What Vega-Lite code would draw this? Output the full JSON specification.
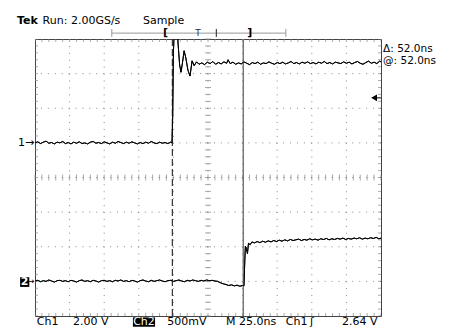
{
  "$schema": "https://vega.github.io/schema/vega-lite/v6.json",
  "width": 346,
  "height": 277,
  "autosize": {"type": "none"},
  "padding": {"left": 35, "top": 39, "right": 69, "bottom": 15},
  "background": "white",
  "config": {"axis": {"disable": true}, "view": {"stroke": "#444", "strokeWidth": 1}},
  "data": {"values": [{}]},
  "datasets": {
    "gridx": [{"v":1},{"v":2},{"v":3},{"v":4},{"v":5},{"v":6},{"v":7},{"v":8},{"v":9}],
    "gridy": [{"v":-3},{"v":-2},{"v":-1},{"v":0},{"v":1},{"v":2},{"v":3}],
    "tx": [{"v":0},{"v":0.2},{"v":0.4},{"v":0.6},{"v":0.8},{"v":1},{"v":1.2},{"v":1.4},{"v":1.6},{"v":1.8},{"v":2},{"v":2.2},{"v":2.4},{"v":2.6},{"v":2.8},{"v":3},{"v":3.2},{"v":3.4},{"v":3.6},{"v":3.8},{"v":4},{"v":4.2},{"v":4.4},{"v":4.6},{"v":4.8},{"v":5},{"v":5.2},{"v":5.4},{"v":5.6},{"v":5.8},{"v":6},{"v":6.2},{"v":6.4},{"v":6.6},{"v":6.8},{"v":7},{"v":7.2},{"v":7.4},{"v":7.6},{"v":7.8},{"v":8},{"v":8.2},{"v":8.4},{"v":8.6},{"v":8.8},{"v":9},{"v":9.2},{"v":9.4},{"v":9.6},{"v":9.8},{"v":10}],
    "ty": [{"v":-4},{"v":-3.8},{"v":-3.6},{"v":-3.4},{"v":-3.2},{"v":-3},{"v":-2.8},{"v":-2.6},{"v":-2.4},{"v":-2.2},{"v":-2},{"v":-1.8},{"v":-1.6},{"v":-1.4},{"v":-1.2},{"v":-1},{"v":-0.8},{"v":-0.6},{"v":-0.4},{"v":-0.2},{"v":0},{"v":0.2},{"v":0.4},{"v":0.6},{"v":0.8},{"v":1},{"v":1.2},{"v":1.4},{"v":1.6},{"v":1.8},{"v":2},{"v":2.2},{"v":2.4},{"v":2.6},{"v":2.8},{"v":3},{"v":3.2},{"v":3.4},{"v":3.6},{"v":3.8},{"v":4}],
    "traces": [
      {"ch":"1","t":0.00,"v":1.00},{"ch":"1","t":0.08,"v":1.03},{"ch":"1","t":0.16,"v":0.98},{"ch":"1","t":0.24,"v":1.02},{"ch":"1","t":0.32,"v":1.05},{"ch":"1","t":0.40,"v":0.99},{"ch":"1","t":0.48,"v":1.01},{"ch":"1","t":0.56,"v":0.97},{"ch":"1","t":0.64,"v":1.02},{"ch":"1","t":0.72,"v":1.00},{"ch":"1","t":0.80,"v":1.04},{"ch":"1","t":0.88,"v":0.98},{"ch":"1","t":0.96,"v":1.01},{"ch":"1","t":1.04,"v":0.97},{"ch":"1","t":1.12,"v":1.02},{"ch":"1","t":1.20,"v":0.99},{"ch":"1","t":1.28,"v":1.03},{"ch":"1","t":1.36,"v":0.98},{"ch":"1","t":1.44,"v":1.00},{"ch":"1","t":1.52,"v":0.97},{"ch":"1","t":1.60,"v":1.02},{"ch":"1","t":1.68,"v":1.04},{"ch":"1","t":1.76,"v":0.99},{"ch":"1","t":1.84,"v":1.01},{"ch":"1","t":1.92,"v":0.98},{"ch":"1","t":2.00,"v":1.03},{"ch":"1","t":2.08,"v":1.00},{"ch":"1","t":2.16,"v":0.97},{"ch":"1","t":2.24,"v":1.02},{"ch":"1","t":2.32,"v":0.99},{"ch":"1","t":2.40,"v":1.04},{"ch":"1","t":2.48,"v":1.01},{"ch":"1","t":2.56,"v":0.98},{"ch":"1","t":2.64,"v":1.02},{"ch":"1","t":2.72,"v":0.99},{"ch":"1","t":2.80,"v":1.03},{"ch":"1","t":2.88,"v":1.00},{"ch":"1","t":2.96,"v":0.97},{"ch":"1","t":3.04,"v":1.01},{"ch":"1","t":3.12,"v":0.98},{"ch":"1","t":3.20,"v":1.02},{"ch":"1","t":3.28,"v":0.99},{"ch":"1","t":3.36,"v":1.04},{"ch":"1","t":3.44,"v":1.00},{"ch":"1","t":3.52,"v":0.98},{"ch":"1","t":3.60,"v":1.02},{"ch":"1","t":3.68,"v":0.99},{"ch":"1","t":3.76,"v":1.01},{"ch":"1","t":3.84,"v":0.98},{"ch":"1","t":3.92,"v":1.02},{"ch":"1","t":3.96,"v":1.00},{"ch":"1","t":3.98,"v":1.8},{"ch":"1","t":4.00,"v":3.6},{"ch":"1","t":4.03,"v":4.4},{"ch":"1","t":4.10,"v":4.4},{"ch":"1","t":4.14,"v":3.8},{"ch":"1","t":4.18,"v":3.25},{"ch":"1","t":4.22,"v":3.04},{"ch":"1","t":4.26,"v":3.3},{"ch":"1","t":4.31,"v":3.66},{"ch":"1","t":4.36,"v":3.45},{"ch":"1","t":4.42,"v":3.1},{"ch":"1","t":4.48,"v":2.93},{"ch":"1","t":4.54,"v":3.37},{"ch":"1","t":4.60,"v":3.23},{"ch":"1","t":4.67,"v":3.34},{"ch":"1","t":4.74,"v":3.27},{"ch":"1","t":4.82,"v":3.31},{"ch":"1","t":4.90,"v":3.26},{"ch":"1","t":4.98,"v":3.33},{"ch":"1","t":5.06,"v":3.29},{"ch":"1","t":5.14,"v":3.35},{"ch":"1","t":5.22,"v":3.27},{"ch":"1","t":5.30,"v":3.32},{"ch":"1","t":5.38,"v":3.28},{"ch":"1","t":5.46,"v":3.34},{"ch":"1","t":5.54,"v":3.30},{"ch":"1","t":5.58,"v":3.40},{"ch":"1","t":5.64,"v":3.29},{"ch":"1","t":5.72,"v":3.33},{"ch":"1","t":5.80,"v":3.27},{"ch":"1","t":5.88,"v":3.31},{"ch":"1","t":5.96,"v":3.28},{"ch":"1","t":6.04,"v":3.34},{"ch":"1","t":6.12,"v":3.30},{"ch":"1","t":6.20,"v":3.26},{"ch":"1","t":6.28,"v":3.32},{"ch":"1","t":6.36,"v":3.29},{"ch":"1","t":6.44,"v":3.33},{"ch":"1","t":6.52,"v":3.27},{"ch":"1","t":6.60,"v":3.31},{"ch":"1","t":6.68,"v":3.29},{"ch":"1","t":6.76,"v":3.34},{"ch":"1","t":6.84,"v":3.30},{"ch":"1","t":6.92,"v":3.27},{"ch":"1","t":7.00,"v":3.32},{"ch":"1","t":7.08,"v":3.29},{"ch":"1","t":7.16,"v":3.33},{"ch":"1","t":7.24,"v":3.28},{"ch":"1","t":7.32,"v":3.31},{"ch":"1","t":7.40,"v":3.35},{"ch":"1","t":7.48,"v":3.29},{"ch":"1","t":7.56,"v":3.32},{"ch":"1","t":7.64,"v":3.28},{"ch":"1","t":7.72,"v":3.33},{"ch":"1","t":7.80,"v":3.30},{"ch":"1","t":7.88,"v":3.34},{"ch":"1","t":7.96,"v":3.29},{"ch":"1","t":8.04,"v":3.32},{"ch":"1","t":8.12,"v":3.28},{"ch":"1","t":8.20,"v":3.33},{"ch":"1","t":8.28,"v":3.30},{"ch":"1","t":8.36,"v":3.35},{"ch":"1","t":8.44,"v":3.29},{"ch":"1","t":8.52,"v":3.32},{"ch":"1","t":8.60,"v":3.28},{"ch":"1","t":8.68,"v":3.33},{"ch":"1","t":8.76,"v":3.31},{"ch":"1","t":8.84,"v":3.29},{"ch":"1","t":8.92,"v":3.34},{"ch":"1","t":9.00,"v":3.30},{"ch":"1","t":9.08,"v":3.33},{"ch":"1","t":9.16,"v":3.28},{"ch":"1","t":9.24,"v":3.32},{"ch":"1","t":9.32,"v":3.35},{"ch":"1","t":9.40,"v":3.30},{"ch":"1","t":9.48,"v":3.27},{"ch":"1","t":9.56,"v":3.32},{"ch":"1","t":9.64,"v":3.36},{"ch":"1","t":9.72,"v":3.30},{"ch":"1","t":9.80,"v":3.33},{"ch":"1","t":9.88,"v":3.29},{"ch":"1","t":9.96,"v":3.36},{"ch":"1","t":10.00,"v":3.34},
      {"ch":"2","t":0.00,"v":-2.99},{"ch":"2","t":0.08,"v":-2.97},{"ch":"2","t":0.16,"v":-3.01},{"ch":"2","t":0.24,"v":-2.98},{"ch":"2","t":0.32,"v":-3.00},{"ch":"2","t":0.40,"v":-2.96},{"ch":"2","t":0.48,"v":-2.99},{"ch":"2","t":0.56,"v":-3.02},{"ch":"2","t":0.64,"v":-2.98},{"ch":"2","t":0.72,"v":-2.97},{"ch":"2","t":0.80,"v":-3.00},{"ch":"2","t":0.88,"v":-2.98},{"ch":"2","t":0.96,"v":-3.01},{"ch":"2","t":1.04,"v":-2.97},{"ch":"2","t":1.12,"v":-2.99},{"ch":"2","t":1.20,"v":-3.02},{"ch":"2","t":1.28,"v":-2.98},{"ch":"2","t":1.36,"v":-2.96},{"ch":"2","t":1.44,"v":-3.00},{"ch":"2","t":1.52,"v":-2.98},{"ch":"2","t":1.60,"v":-3.01},{"ch":"2","t":1.68,"v":-2.97},{"ch":"2","t":1.76,"v":-2.99},{"ch":"2","t":1.84,"v":-3.02},{"ch":"2","t":1.92,"v":-2.98},{"ch":"2","t":2.00,"v":-2.97},{"ch":"2","t":2.08,"v":-3.00},{"ch":"2","t":2.16,"v":-2.98},{"ch":"2","t":2.24,"v":-3.01},{"ch":"2","t":2.32,"v":-2.97},{"ch":"2","t":2.40,"v":-2.99},{"ch":"2","t":2.48,"v":-2.96},{"ch":"2","t":2.56,"v":-3.00},{"ch":"2","t":2.64,"v":-2.98},{"ch":"2","t":2.72,"v":-3.01},{"ch":"2","t":2.80,"v":-2.97},{"ch":"2","t":2.88,"v":-2.99},{"ch":"2","t":2.96,"v":-3.02},{"ch":"2","t":3.04,"v":-2.98},{"ch":"2","t":3.12,"v":-2.96},{"ch":"2","t":3.20,"v":-2.99},{"ch":"2","t":3.28,"v":-3.01},{"ch":"2","t":3.36,"v":-2.97},{"ch":"2","t":3.44,"v":-3.00},{"ch":"2","t":3.52,"v":-2.98},{"ch":"2","t":3.60,"v":-2.96},{"ch":"2","t":3.68,"v":-2.99},{"ch":"2","t":3.76,"v":-3.01},{"ch":"2","t":3.84,"v":-2.98},{"ch":"2","t":3.92,"v":-2.97},{"ch":"2","t":4.00,"v":-3.00},{"ch":"2","t":4.08,"v":-2.98},{"ch":"2","t":4.16,"v":-2.96},{"ch":"2","t":4.24,"v":-2.99},{"ch":"2","t":4.32,"v":-3.01},{"ch":"2","t":4.40,"v":-2.97},{"ch":"2","t":4.48,"v":-2.99},{"ch":"2","t":4.56,"v":-2.96},{"ch":"2","t":4.64,"v":-2.98},{"ch":"2","t":4.72,"v":-3.00},{"ch":"2","t":4.80,"v":-2.97},{"ch":"2","t":4.88,"v":-2.99},{"ch":"2","t":4.96,"v":-2.96},{"ch":"2","t":5.04,"v":-2.98},{"ch":"2","t":5.12,"v":-2.97},{"ch":"2","t":5.20,"v":-2.99},{"ch":"2","t":5.28,"v":-3.00},{"ch":"2","t":5.36,"v":-3.04},{"ch":"2","t":5.44,"v":-3.07},{"ch":"2","t":5.52,"v":-3.09},{"ch":"2","t":5.60,"v":-3.12},{"ch":"2","t":5.68,"v":-3.10},{"ch":"2","t":5.76,"v":-3.13},{"ch":"2","t":5.84,"v":-3.11},{"ch":"2","t":5.92,"v":-3.14},{"ch":"2","t":6.00,"v":-3.12},{"ch":"2","t":6.04,"v":-3.13},{"ch":"2","t":6.06,"v":-2.5},{"ch":"2","t":6.08,"v":-1.98},{"ch":"2","t":6.11,"v":-2.05},{"ch":"2","t":6.14,"v":-2.2},{"ch":"2","t":6.17,"v":-1.9},{"ch":"2","t":6.22,"v":-1.94},{"ch":"2","t":6.27,"v":-1.86},{"ch":"2","t":6.34,"v":-1.89},{"ch":"2","t":6.42,"v":-1.85},{"ch":"2","t":6.50,"v":-1.88},{"ch":"2","t":6.58,"v":-1.84},{"ch":"2","t":6.66,"v":-1.87},{"ch":"2","t":6.74,"v":-1.83},{"ch":"2","t":6.82,"v":-1.86},{"ch":"2","t":6.90,"v":-1.82},{"ch":"2","t":6.98,"v":-1.85},{"ch":"2","t":7.06,"v":-1.81},{"ch":"2","t":7.14,"v":-1.84},{"ch":"2","t":7.22,"v":-1.80},{"ch":"2","t":7.30,"v":-1.83},{"ch":"2","t":7.38,"v":-1.79},{"ch":"2","t":7.46,"v":-1.82},{"ch":"2","t":7.54,"v":-1.80},{"ch":"2","t":7.62,"v":-1.78},{"ch":"2","t":7.70,"v":-1.82},{"ch":"2","t":7.78,"v":-1.79},{"ch":"2","t":7.86,"v":-1.81},{"ch":"2","t":7.94,"v":-1.77},{"ch":"2","t":8.02,"v":-1.80},{"ch":"2","t":8.10,"v":-1.78},{"ch":"2","t":8.18,"v":-1.81},{"ch":"2","t":8.26,"v":-1.77},{"ch":"2","t":8.34,"v":-1.79},{"ch":"2","t":8.42,"v":-1.76},{"ch":"2","t":8.50,"v":-1.80},{"ch":"2","t":8.58,"v":-1.77},{"ch":"2","t":8.66,"v":-1.79},{"ch":"2","t":8.74,"v":-1.76},{"ch":"2","t":8.82,"v":-1.78},{"ch":"2","t":8.90,"v":-1.75},{"ch":"2","t":8.98,"v":-1.79},{"ch":"2","t":9.06,"v":-1.76},{"ch":"2","t":9.14,"v":-1.78},{"ch":"2","t":9.22,"v":-1.75},{"ch":"2","t":9.30,"v":-1.77},{"ch":"2","t":9.38,"v":-1.74},{"ch":"2","t":9.46,"v":-1.78},{"ch":"2","t":9.54,"v":-1.75},{"ch":"2","t":9.62,"v":-1.77},{"ch":"2","t":9.70,"v":-1.74},{"ch":"2","t":9.78,"v":-1.76},{"ch":"2","t":9.86,"v":-1.73},{"ch":"2","t":9.94,"v":-1.77},{"ch":"2","t":10.00,"v":-1.75}
    ]
  },
  "layer": [
    {"data": {"name": "traces"}, "mark": {"type": "line", "color": "#000", "strokeWidth": 1, "clip": true},
     "encoding": {"x": {"field": "t", "type": "quantitative", "scale": {"domain": [0, 10], "nice": false, "zero": false}},
                  "y": {"field": "v", "type": "quantitative", "scale": {"domain": [-4, 4], "nice": false, "zero": false}},
                  "detail": {"field": "ch"}}},
    {"data": {"name": "gridx"}, "mark": {"type": "rule", "color": "#888", "strokeWidth": 1, "strokeDash": [1, 5.92]},
     "encoding": {"x": {"field": "v", "type": "quantitative"}}},
    {"data": {"name": "gridy"}, "mark": {"type": "rule", "color": "#888", "strokeWidth": 1, "strokeDash": [1, 5.92]},
     "encoding": {"y": {"field": "v", "type": "quantitative"}}},
    {"data": {"name": "tx"}, "mark": {"type": "tick", "orient": "vertical", "size": 6, "thickness": 1, "color": "#888"},
     "encoding": {"x": {"field": "v", "type": "quantitative"}, "y": {"datum": 0}}},
    {"data": {"name": "tx"}, "mark": {"type": "tick", "orient": "vertical", "size": 6, "thickness": 1, "color": "#888", "clip": true},
     "encoding": {"x": {"field": "v", "type": "quantitative"}, "y": {"datum": 4}}},
    {"data": {"name": "tx"}, "mark": {"type": "tick", "orient": "vertical", "size": 6, "thickness": 1, "color": "#888", "clip": true},
     "encoding": {"x": {"field": "v", "type": "quantitative"}, "y": {"datum": -4}}},
    {"data": {"name": "ty"}, "mark": {"type": "tick", "orient": "horizontal", "size": 6, "thickness": 1, "color": "#888"},
     "encoding": {"y": {"field": "v", "type": "quantitative"}, "x": {"datum": 5}}},
    {"data": {"name": "ty"}, "mark": {"type": "tick", "orient": "horizontal", "size": 6, "thickness": 1, "color": "#888", "clip": true},
     "encoding": {"y": {"field": "v", "type": "quantitative"}, "x": {"datum": 0}}},
    {"data": {"name": "ty"}, "mark": {"type": "tick", "orient": "horizontal", "size": 6, "thickness": 1, "color": "#888", "clip": true},
     "encoding": {"y": {"field": "v", "type": "quantitative"}, "x": {"datum": 10}}},
    {"mark": {"type": "rule", "color": "#333", "strokeWidth": 1.2, "strokeDash": [7, 3]},
     "encoding": {"x": {"datum": 3.97}}},
    {"mark": {"type": "rule", "color": "#777", "strokeWidth": 1.5},
     "encoding": {"x": {"datum": 6.02}}},
    {"data": {"name": "traces"}, "mark": {"type": "line", "color": "#000", "strokeWidth": 1, "clip": true},
     "encoding": {"x": {"field": "t", "type": "quantitative"}, "y": {"field": "v", "type": "quantitative"}, "detail": {"field": "ch"}}},
    {"mark": {"type": "point", "shape": "triangle-left", "filled": true, "color": "#000", "size": 45, "opacity": 1},
     "encoding": {"x": {"datum": 9.8}, "y": {"datum": 2.3}}},
    {"mark": {"type": "rule", "color": "#000", "strokeWidth": 1},
     "encoding": {"x": {"datum": 9.85}, "x2": {"datum": 10}, "y": {"datum": 2.3}}},
    {"mark": {"type": "rule", "color": "#999", "strokeWidth": 1},
     "encoding": {"x": {"datum": 2.22}, "x2": {"datum": 7.25}, "y": {"datum": 4.17}}},
    {"mark": {"type": "rule", "color": "#999", "strokeWidth": 1},
     "encoding": {"x": {"datum": 2.22}, "y": {"datum": 4.06}, "y2": {"datum": 4.29}}},
    {"mark": {"type": "rule", "color": "#999", "strokeWidth": 1},
     "encoding": {"x": {"datum": 7.25}, "y": {"datum": 4.06}, "y2": {"datum": 4.29}}},
    {"mark": {"type": "rule", "color": "#222", "strokeWidth": 1},
     "encoding": {"x": {"datum": 5.24}, "y": {"datum": 4.06}, "y2": {"datum": 4.29}}},
    {"mark": {"type": "text", "text": "[", "font": "DejaVu Sans", "fontSize": 11, "fontWeight": "bold", "color": "#000", "align": "center", "baseline": "middle"},
     "encoding": {"x": {"datum": 3.77}, "y": {"datum": 4.17}}},
    {"mark": {"type": "text", "text": "]", "font": "DejaVu Sans", "fontSize": 11, "fontWeight": "bold", "color": "#000", "align": "center", "baseline": "middle"},
     "encoding": {"x": {"datum": 6.21}, "y": {"datum": 4.17}}},
    {"mark": {"type": "text", "text": "T", "font": "DejaVu Sans", "fontSize": 9, "color": "#333", "align": "center", "baseline": "middle"},
     "encoding": {"x": {"datum": 4.71}, "y": {"datum": 4.17}}},
    {"mark": {"type": "text", "text": "Tek", "font": "DejaVu Sans", "fontSize": 11, "fontWeight": "bold", "color": "#000", "align": "left", "baseline": "middle"},
     "encoding": {"x": {"datum": -0.52}, "y": {"datum": 4.53}}},
    {"mark": {"type": "text", "text": "Run: 2.00GS/s", "font": "DejaVu Sans", "fontSize": 11, "color": "#000", "align": "left", "baseline": "middle"},
     "encoding": {"x": {"datum": 0.22}, "y": {"datum": 4.53}}},
    {"mark": {"type": "text", "text": "Sample", "font": "DejaVu Sans", "fontSize": 11, "color": "#000", "align": "left", "baseline": "middle"},
     "encoding": {"x": {"datum": 3.12}, "y": {"datum": 4.53}}},
    {"mark": {"type": "text", "text": "Δ: 52.0ns", "font": "DejaVu Sans", "fontSize": 10.5, "color": "#000", "align": "left", "baseline": "middle"},
     "encoding": {"x": {"datum": 10.06}, "y": {"datum": 3.72}}},
    {"mark": {"type": "text", "text": "@: 52.0ns", "font": "DejaVu Sans", "fontSize": 10.5, "color": "#000", "align": "left", "baseline": "middle"},
     "encoding": {"x": {"datum": 10.06}, "y": {"datum": 3.36}}},
    {"mark": {"type": "text", "text": "1→", "font": "DejaVu Sans", "fontSize": 11, "color": "#000", "align": "right", "baseline": "middle"},
     "encoding": {"x": {"datum": -0.02}, "y": {"datum": 1.0}}},
    {"mark": {"type": "rect", "color": "#000"},
     "encoding": {"x": {"datum": -0.43}, "x2": {"datum": -0.165}, "y": {"datum": -2.88}, "y2": {"datum": -3.16}}},
    {"mark": {"type": "text", "text": "2", "font": "DejaVu Sans", "fontSize": 11, "fontWeight": "bold", "color": "#fff", "align": "center", "baseline": "middle"},
     "encoding": {"x": {"datum": -0.3}, "y": {"datum": -3.02}}},
    {"mark": {"type": "text", "text": "→", "font": "DejaVu Sans", "fontSize": 9, "color": "#000", "align": "right", "baseline": "middle"},
     "encoding": {"x": {"datum": -0.01}, "y": {"datum": -3.0}}},
    {"mark": {"type": "text", "text": "Ch1", "font": "DejaVu Sans", "fontSize": 11, "color": "#000", "align": "left", "baseline": "middle"},
     "encoding": {"x": {"datum": 0.05}, "y": {"datum": -4.17}}},
    {"mark": {"type": "text", "text": "2.00 V", "font": "DejaVu Sans", "fontSize": 11, "color": "#000", "align": "left", "baseline": "middle"},
     "encoding": {"x": {"datum": 1.10}, "y": {"datum": -4.17}}},
    {"mark": {"type": "rect", "color": "#000"},
     "encoding": {"x": {"datum": 2.83}, "x2": {"datum": 3.47}, "y": {"datum": -4.04}, "y2": {"datum": -4.31}}},
    {"mark": {"type": "text", "text": "Ch2", "font": "DejaVu Sans", "fontSize": 11, "color": "#fff", "align": "center", "baseline": "middle"},
     "encoding": {"x": {"datum": 3.15}, "y": {"datum": -4.17}}},
    {"mark": {"type": "text", "text": "500mV", "font": "DejaVu Sans", "fontSize": 11, "color": "#000", "align": "left", "baseline": "middle"},
     "encoding": {"x": {"datum": 3.82}, "y": {"datum": -4.17}}},
    {"mark": {"type": "text", "text": "M 25.0ns", "font": "DejaVu Sans", "fontSize": 11, "color": "#000", "align": "left", "baseline": "middle"},
     "encoding": {"x": {"datum": 5.52}, "y": {"datum": -4.17}}},
    {"mark": {"type": "text", "text": "Ch1", "font": "DejaVu Sans", "fontSize": 11, "color": "#000", "align": "left", "baseline": "middle"},
     "encoding": {"x": {"datum": 7.25}, "y": {"datum": -4.17}}},
    {"mark": {"type": "text", "text": "ʃ", "font": "DejaVu Sans", "fontSize": 11, "color": "#000", "align": "left", "baseline": "middle"},
     "encoding": {"x": {"datum": 7.95}, "y": {"datum": -4.17}}},
    {"mark": {"type": "text", "text": "2.64 V", "font": "DejaVu Sans", "fontSize": 11, "color": "#000", "align": "left", "baseline": "middle"},
     "encoding": {"x": {"datum": 8.87}, "y": {"datum": -4.17}}}
  ]
}
